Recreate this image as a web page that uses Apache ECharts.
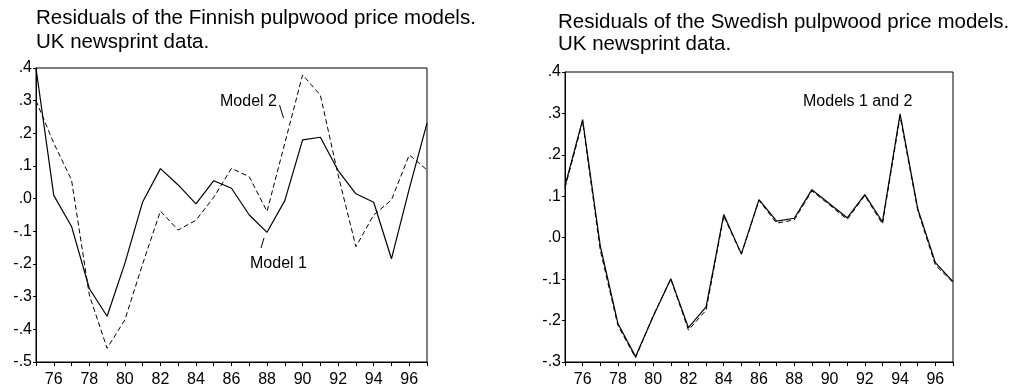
<!DOCTYPE html>
<html>
<head>
<meta charset="utf-8">
<script src="https://cdn.jsdelivr.net/npm/echarts@6/dist/echarts.min.js"></script>
<style>
html,body{margin:0;padding:0;background:#fff;}
#c{width:1026px;height:392px;}
</style>
</head>
<body>
<div id="c"></div>
<script>
var years = [1975,1976,1977,1978,1979,1980,1981,1982,1983,1984,1985,1986,1987,1988,1989,1990,1991,1992,1993,1994,1995,1996,1997];
var finModel1 = [0.40, 0.01, -0.085, -0.275, -0.36, -0.198, -0.01, 0.092, 0.042, -0.016, 0.055, 0.032, -0.05, -0.103, -0.006, 0.18, 0.188, 0.086, 0.015, -0.011, -0.184, 0.03, 0.231];
var finModel2 = [0.30, 0.17, 0.057, -0.295, -0.458, -0.371, -0.20, -0.038, -0.096, -0.066, 0.004, 0.093, 0.067, -0.039, 0.17, 0.379, 0.317, 0.072, -0.147, -0.05, -0.004, 0.134, 0.088];
var sweModel1 = [0.125, 0.285, -0.02, -0.207, -0.287, -0.19, -0.099, -0.217, -0.167, 0.056, -0.039, 0.092, 0.04, 0.047, 0.116, 0.082, 0.048, 0.104, 0.038, 0.299, 0.07, -0.06, -0.106];
var sweModel2 = [0.12, 0.28, -0.03, -0.212, -0.29, -0.188, -0.10, -0.223, -0.175, 0.052, -0.04, 0.09, 0.035, 0.043, 0.113, 0.079, 0.044, 0.102, 0.033, 0.293, 0.066, -0.066, -0.108];
var titleFin = 'Residuals of the Finnish pulpwood price models.\nUK newsprint data.';
var titleSwe = 'Residuals of the Swedish pulpwood price models.\nUK newsprint data.';
var noteFin1 = 'Model 1';
var noteFin2 = 'Model 2';
var noteSwe = 'Models 1 and 2';

function pairs(vals){ return years.map(function(y,i){ return [y, vals[i]]; }); }
var FONT = 'Liberation Sans, Arial, sans-serif';
function yFmt(v){
  var s = (Math.round(v*10)/10).toFixed(1);
  if (s === '-0.0') s = '0.0';
  return s.replace(/^(-?)0\./, '$1.');
}
function xAxisCfg(idx){
  return {
    type:'value', gridIndex:idx, min:1975, max:1997, interval:1,
    axisLine:{show:true, onZero:false, lineStyle:{color:'#000', width:1}},
    axisTick:{show:true, length:4, lineStyle:{color:'#000'}},
    axisLabel:{color:'#000', fontFamily:FONT, fontSize:16, margin:10,
      formatter:function(v){ return (v % 2 === 0) ? String(v).slice(2) : ''; }},
    splitLine:{show:false}
  };
}
function yAxisCfg(idx, mn, mx){
  return {
    type:'value', gridIndex:idx, min:mn, max:mx, interval:0.1,
    axisLine:{show:true, onZero:false, lineStyle:{color:'#000', width:1}},
    axisTick:{show:true, length:3, lineStyle:{color:'#000'}},
    axisLabel:{color:'#000', fontFamily:FONT, fontSize:16, margin:4, formatter:yFmt},
    splitLine:{show:false}
  };
}
function solid(idx, vals){
  return {type:'line', xAxisIndex:idx, yAxisIndex:idx, data:pairs(vals), symbol:'none',
    lineStyle:{color:'#000', width:1.2, type:'solid'}, z:3};
}
function dashed(idx, vals){
  return {type:'line', xAxisIndex:idx, yAxisIndex:idx, data:pairs(vals), symbol:'none',
    lineStyle:{color:'#000', width:1, type:[5,3]}, z:2};
}
var chart = echarts.init(document.getElementById('c'), null, {renderer:'canvas'});
chart.setOption({
  animation:false,
  backgroundColor:'#fff',
  title:[
    {text:titleFin, left:36, top:6, padding:0, textStyle:{fontFamily:FONT, fontSize:20.5, fontWeight:'normal', color:'#000', lineHeight:24}},
    {text:titleSwe, left:558, top:11, padding:0, textStyle:{fontFamily:FONT, fontSize:20.5, fontWeight:'normal', color:'#000', lineHeight:22}}
  ],
  grid:[
    {left:36, top:68, width:391, height:294, show:true, borderColor:'#000', borderWidth:1, backgroundColor:'transparent'},
    {left:565, top:72, width:388, height:290, show:true, borderColor:'#000', borderWidth:1, backgroundColor:'transparent'}
  ],
  xAxis:[xAxisCfg(0), xAxisCfg(1)],
  yAxis:[yAxisCfg(0,-0.5,0.4), yAxisCfg(1,-0.3,0.4)],
  series:[dashed(0, finModel2), solid(0, finModel1), dashed(1, sweModel2), solid(1, sweModel1)],
  graphic:[
    {type:'text', left:220, top:94, style:{text:noteFin2, font:'16px ' + FONT, fill:'#000'}},
    {type:'line', shape:{x1:279.5, y1:105, x2:283.5, y2:118}, style:{stroke:'#000', lineWidth:1}},
    {type:'text', left:250, top:256, style:{text:noteFin1, font:'16px ' + FONT, fill:'#000'}},
    {type:'line', shape:{x1:261, y1:248, x2:264, y2:238}, style:{stroke:'#000', lineWidth:1}},
    {type:'text', left:803, top:94, style:{text:noteSwe, font:'16px ' + FONT, fill:'#000'}}
  ]
});
</script>
</body>
</html>
